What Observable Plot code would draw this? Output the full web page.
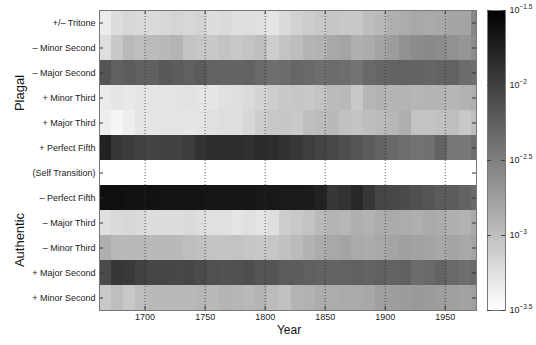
<!DOCTYPE html>
<html><head><meta charset="utf-8">
<script src="https://cdn.jsdelivr.net/npm/d3@7"></script>
<script src="https://cdn.jsdelivr.net/npm/@observablehq/plot@0.6"></script>
<style>
body{margin:0;background:#fff;}
#wrap{position:relative;width:536px;height:345px;font-family:"Liberation Sans",Arial,sans-serif;overflow:hidden;}
#wrap svg{position:absolute;top:0;}
.lab{position:absolute;color:#111;white-space:nowrap;line-height:1;}
</style></head><body><div id="wrap"></div>
<script>
// Row labels (top to bottom)
const rows = ["+/– Tritone","– Minor Second","– Major Second","+ Minor Third","+ Major Third","+ Perfect Fifth","(Self Transition)","– Perfect Fifth","– Major Third","– Minor Third","+ Major Second","+ Minor Second"];
// Start year of each time bin
const binStarts = [1662,1672,1682,1692,1702,1712,1722,1732,1742,1752,1762,1772,1782,1792,1802,1812,1822,1832,1842,1852,1862,1872,1882,1892,1902,1912,1922,1932,1942,1952,1962,1972];
const yearEnd = 1976;
// log10 transition probabilities per row per bin
const tritone = [-3.34,-3.23,-3.19,-3.21,-3.21,-3.19,-3.16,-3.19,-3.16,-3.23,-3.21,-3.24,-3.23,-3.26,-3.29,-3.21,-3.15,-3.11,-3.07,-3.05,-3.07,-3.07,-2.99,-2.95,-2.87,-2.85,-2.82,-2.83,-2.82,-2.79,-2.79,-2.56];
const minorSecondMinus = [-3.24,-3.07,-2.95,-2.99,-2.97,-2.95,-2.91,-3.03,-3.05,-3.07,-3.03,-3.07,-3.03,-2.99,-3.11,-3.03,-2.99,-2.91,-2.90,-2.82,-2.79,-2.87,-2.85,-2.79,-2.72,-2.64,-2.60,-2.58,-2.60,-2.64,-2.68,-2.60];
const majorSecondMinus = [-2.17,-2.25,-2.22,-2.25,-2.25,-2.19,-2.22,-2.25,-2.21,-2.27,-2.28,-2.28,-2.27,-2.32,-2.36,-2.35,-2.30,-2.32,-2.36,-2.35,-2.36,-2.40,-2.32,-2.30,-2.28,-2.27,-2.28,-2.30,-2.28,-2.27,-2.35,-2.38];
const minorThirdPlus = [-3.34,-3.30,-3.32,-3.30,-3.29,-3.30,-3.29,-3.27,-3.29,-3.30,-3.26,-3.24,-3.21,-3.16,-3.11,-3.07,-3.05,-3.07,-3.03,-2.97,-2.95,-3.07,-2.93,-2.90,-2.91,-2.91,-2.93,-2.91,-2.91,-2.93,-2.90,-2.87];
const majorThirdPlus = [-3.37,-3.42,-3.37,-3.30,-3.29,-3.29,-3.29,-3.30,-3.29,-3.26,-3.24,-3.24,-3.19,-3.11,-3.07,-3.05,-3.07,-2.99,-2.97,-2.95,-3.01,-3.03,-2.99,-2.97,-2.93,-2.87,-3.03,-3.03,-3.01,-2.99,-3.07,-2.99];
const perfectFifthPlus = [-1.77,-1.93,-1.97,-2.01,-2.03,-2.01,-2.01,-1.97,-1.89,-1.85,-1.85,-1.85,-1.88,-1.83,-1.85,-1.89,-1.93,-1.99,-2.03,-2.06,-2.11,-2.17,-2.22,-2.28,-2.32,-2.36,-2.40,-2.38,-2.28,-2.43,-2.44,-2.36];
const selfTransition = [-3.6,-3.6,-3.6,-3.6,-3.6,-3.6,-3.6,-3.6,-3.6,-3.6,-3.6,-3.6,-3.6,-3.6,-3.6,-3.6,-3.6,-3.6,-3.6,-3.6,-3.6,-3.6,-3.6,-3.6,-3.6,-3.6,-3.6,-3.6,-3.6,-3.6,-3.6,-3.6];
const perfectFifthMinus = [-1.62,-1.62,-1.63,-1.64,-1.64,-1.66,-1.66,-1.66,-1.66,-1.67,-1.67,-1.67,-1.67,-1.69,-1.69,-1.70,-1.70,-1.72,-1.77,-1.93,-1.89,-1.81,-1.93,-2.05,-2.06,-2.09,-2.13,-2.17,-2.21,-2.22,-2.28,-2.32];
const majorThirdMinus = [-3.26,-3.21,-3.19,-3.21,-3.23,-3.23,-3.23,-3.21,-3.24,-3.26,-3.26,-3.29,-3.26,-3.29,-3.24,-3.11,-3.07,-3.03,-2.95,-2.91,-2.93,-2.87,-2.90,-2.85,-2.83,-2.85,-2.87,-2.83,-2.85,-2.87,-2.90,-2.83];
const minorThirdMinus = [-2.87,-2.95,-2.95,-2.95,-2.95,-2.95,-2.95,-2.99,-3.01,-3.03,-3.03,-3.03,-3.05,-3.07,-3.05,-3.01,-2.97,-2.90,-2.85,-2.82,-2.79,-2.83,-2.85,-2.82,-2.79,-2.75,-2.77,-2.79,-2.82,-2.79,-2.82,-2.79];
const majorSecondPlus = [-2.09,-1.93,-1.95,-2.01,-2.05,-2.05,-2.06,-2.05,-2.09,-2.13,-2.14,-2.13,-2.11,-2.17,-2.17,-2.21,-2.22,-2.25,-2.27,-2.28,-2.27,-2.25,-2.28,-2.25,-2.28,-2.25,-2.35,-2.32,-2.28,-2.32,-2.36,-2.32];
const minorSecondPlus = [-3.07,-2.99,-3.07,-2.99,-2.95,-2.95,-2.95,-2.95,-2.93,-2.95,-2.91,-2.93,-2.95,-2.91,-2.97,-3.01,-2.91,-2.90,-2.85,-2.85,-2.83,-2.83,-2.82,-2.75,-2.74,-2.72,-2.70,-2.72,-2.74,-2.75,-2.77,-2.75];
const series = [tritone,minorSecondMinus,majorSecondMinus,minorThirdPlus,majorThirdPlus,perfectFifthPlus,selfTransition,perfectFifthMinus,majorThirdMinus,minorThirdMinus,majorSecondPlus,minorSecondPlus];
const xTicks = [1700,1750,1800,1850,1900,1950];
const cbTickExps = [-3.5,-3,-2.5,-2,-1.5];
const cbTickLabels = ["−3.5","−3","−2.5","−2","−1.5"];

const cells = [];
rows.forEach((r, i) => binStarts.forEach((s, j) => {
  cells.push({row: r, x1: s, x2: Math.min(yearEnd, j + 1 < binStarts.length ? binStarts[j + 1] : yearEnd), v: Math.pow(10, series[i][j])});
}));

const colorOpt = {type: "log", domain: [Math.pow(10, -3.5), Math.pow(10, -1.5)], range: ["white", "black"], interpolate: "rgb", clamp: true};
const font = {fontFamily: "Liberation Sans, Arial, sans-serif", fontSize: "9px", color: "#222", background: "transparent"};

const main = Plot.plot({
  width: 480, height: 345,
  marginLeft: 99, marginRight: 4, marginTop: 10, marginBottom: 35,
  style: font,
  x: {domain: [1662, yearEnd], label: null},
  y: {domain: rows, padding: 0, label: null},
  color: colorOpt,
  marks: [
    Plot.barX(cells, {x1: "x1", x2: "x2", y: "row", fill: "v", shapeRendering: "crispEdges"}),
    Plot.ruleX(xTicks, {x: d => d, stroke: "#333", strokeDasharray: "1,2", strokeWidth: 0.8}),
    Plot.tickX(xTicks, {x: d => d, insetTop: 296, stroke: "#333"}),
    Plot.tickX(xTicks, {x: d => d, insetBottom: 296, stroke: "#333"}),
    Plot.tickY(rows, {y: d => d, insetRight: 373, stroke: "#333"}),
    Plot.tickY(rows, {y: d => d, insetLeft: 373, stroke: "#333"}),
    Plot.frame({stroke: "#777"}),
    Plot.axisX(xTicks, {tickSize: 0, tickPadding: 3, label: null, tickFormat: d => String(d)}),
    Plot.axisY({tickSize: 0, tickPadding: 4, label: null})
  ]
});

const stops = d3.range(0, 200).map(i => -3.5 + i * 0.01);
const cb = Plot.plot({
  width: 66, height: 345,
  marginLeft: 17, marginRight: 31, marginTop: 10, marginBottom: 35,
  style: font,
  x: {domain: [0, 1], axis: null},
  y: {type: "log", domain: [Math.pow(10, -3.5), Math.pow(10, -1.5)], axis: null},
  color: colorOpt,
  marks: [
    Plot.rect(stops, {x1: 0, x2: 1, y1: e => Math.pow(10, e), y2: e => Math.pow(10, e + 0.0101), fill: e => Math.pow(10, e + 0.005), shapeRendering: "crispEdges"}),
    Plot.frame({stroke: "#777"}),
    Plot.ruleY(cbTickExps, {y: e => Math.pow(10, e), x1: 0, x2: 0.22, stroke: "#444"}),
    Plot.ruleY(cbTickExps, {y: e => Math.pow(10, e), x1: 0.78, x2: 1, stroke: "#444"}),
    Plot.axisY(cbTickExps.map(e => Math.pow(10, e)), {anchor: "right", tickSize: 0, tickPadding: 4, label: null,
      tickFormat: v => cbTickLabels[cbTickExps.findIndex(e => Math.abs(Math.pow(10, e) - v) < 1e-9)]})
  ]
});

const wrap = document.getElementById("wrap");
main.style.left = "0px";
cb.style.left = "470px";
wrap.appendChild(main);
wrap.appendChild(cb);

// superscript exponents on colorbar labels
cb.querySelectorAll('g[aria-label="y-axis tick label"] text').forEach(t => {
  const exp = t.textContent;
  t.textContent = "";
  const base = document.createElementNS("http://www.w3.org/2000/svg", "tspan");
  base.textContent = "10";
  base.setAttribute("font-size", "9");
  const sup = document.createElementNS("http://www.w3.org/2000/svg", "tspan");
  sup.textContent = exp;
  sup.setAttribute("font-size", "6.5");
  sup.setAttribute("dy", "-4");
  t.appendChild(base);
  t.appendChild(sup);
});

function addLabel(text, cx, cy, size, rotate) {
  const d = document.createElement("div");
  d.className = "lab";
  d.textContent = text;
  d.style.fontSize = size + "px";
  d.style.left = cx + "px";
  d.style.top = cy + "px";
  d.style.transform = "translate(-50%,-50%)" + (rotate ? " rotate(-90deg)" : "");
  wrap.appendChild(d);
}
addLabel("Year", 289, 330, 12, false);
addLabel("Plagal", 19, 93, 13, true);
addLabel("Authentic", 19, 240, 13, true);
</script>
</body></html>
